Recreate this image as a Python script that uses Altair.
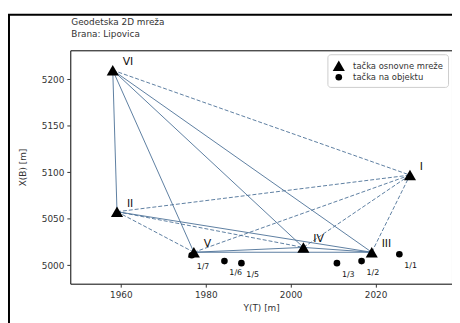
import altair as alt
import pandas as pd

# Base network points (name, Y(E), X(N))
base_names = ["I", "II", "III", "IV", "V", "VI"]
base_e = [2028.1, 1959.1, 2019.1, 2003.0, 1977.2, 1958.1]
base_n = [5096.8, 5057.4, 5013.8, 5019.0, 5013.8, 5209.6]

# Points on the object
obj_names = ["1/1", "1/2", "1/3", "1/5", "1/6", "1/7"]
obj_e = [2025.6, 2016.7, 2010.9, 1988.4, 1984.4, 1976.7]
obj_n = [5011.7, 5004.3, 5002.1, 5002.1, 5004.3, 5010.6]

# Network observations (edges)
edge_from = ["VI", "VI", "VI", "VI", "VI", "II", "II", "II", "II", "V", "V", "V", "IV", "IV", "III"]
edge_to   = ["II", "V", "IV", "III", "I", "I", "IV", "III", "V", "I", "IV", "III", "III", "I", "I"]
edge_style = ["solid", "solid", "solid", "solid", "dashed", "dashed", "dashed", "solid", "dashed",
              "dashed", "solid", "solid", "solid", "dashed", "dashed"]

x_ticks = [1960, 1980, 2000, 2020]
y_ticks = [5000, 5050, 5100, 5150, 5200]

legend_labels = ["tačka osnovne mreže", "tačka na objektu"]
title_lines = ["Geodetska 2D mreža", "Brana: Lipovica"]

pos = {n: (e, x) for n, e, x in zip(base_names, base_e, base_n)}
edges = pd.DataFrame({
    "e1": [pos[a][0] for a in edge_from],
    "n1": [pos[a][1] for a in edge_from],
    "e2": [pos[b][0] for b in edge_to],
    "n2": [pos[b][1] for b in edge_to],
    "style": edge_style,
})

pts = pd.DataFrame({
    "name": base_names + obj_names,
    "E": base_e + obj_e,
    "N": base_n + obj_n,
    "type": [legend_labels[0]] * len(base_names) + [legend_labels[1]] * len(obj_names),
})
base_df = pts[pts["type"] == legend_labels[0]]
obj_df = pts[pts["type"] == legend_labels[1]]

xs = alt.Scale(domain=[1948.1, 2038.0], nice=False, zero=False)
ys = alt.Scale(domain=[4980, 5231], nice=False, zero=False)

X = lambda f: alt.X(f, type="quantitative", scale=xs, title="Y(T) [m]",
                    axis=alt.Axis(values=x_ticks, format="d"))
Y = lambda f: alt.Y(f, type="quantitative", scale=ys, title="X(B) [m]",
                    axis=alt.Axis(values=y_ticks, format="d"))

line_color = "#4a7096"

solid = alt.Chart(edges).transform_filter(alt.datum.style == "solid").mark_rule(
    color=line_color, strokeWidth=0.9
).encode(x=X("e1"), y=Y("n1"), x2="e2", y2="n2")

dashed = alt.Chart(edges).transform_filter(alt.datum.style == "dashed").mark_rule(
    color=line_color, strokeWidth=0.9, strokeDash=[4, 2]
).encode(x=X("e1"), y=Y("n1"), x2="e2", y2="n2")

points = alt.Chart(pts).mark_point(filled=True, color="black", opacity=1).encode(
    x=X("E"), y=Y("N"),
    shape=alt.Shape("type:N", scale=alt.Scale(domain=legend_labels, range=["triangle-up", "circle"]),
                    legend=alt.Legend(title=None)),
    size=alt.Size("type:N", scale=alt.Scale(domain=legend_labels, range=[150, 45]),
                  legend=alt.Legend(title=None)),
)

base_labels = alt.Chart(base_df).mark_text(
    align="left", baseline="middle", dx=10, dy=-8, fontSize=11, color="#111", font="DejaVu Sans"
).encode(x=X("E"), y=Y("N"), text="name")

obj_labels = alt.Chart(obj_df).mark_text(
    align="left", baseline="middle", dx=5, dy=12, fontSize=8, color="#111", font="DejaVu Sans"
).encode(x=X("E"), y=Y("N"), text="name")

frame = alt.Chart(pd.DataFrame({"a": [0]})).mark_rect(
    fillOpacity=0, stroke="black", strokeWidth=2
).encode(x=alt.value(-62), x2=alt.value(420), y=alt.value(-36), y2=alt.value(300))

title_df = pd.DataFrame({"t": title_lines, "i": [0, 1]})
title1 = alt.Chart(title_df).transform_filter(alt.datum.i == 0).mark_text(
    align="left", baseline="middle", fontSize=9, color="#333", font="DejaVu Sans"
).encode(x=alt.value(1), y=alt.value(-29), text="t:N")
title2 = alt.Chart(title_df).transform_filter(alt.datum.i == 1).mark_text(
    align="left", baseline="middle", fontSize=9, color="#333", font="DejaVu Sans"
).encode(x=alt.value(1), y=alt.value(-16), text="t:N")

chart = alt.layer(frame, solid, dashed, points, base_labels, obj_labels, title1, title2).properties(
    width=386, height=236,
    autosize=alt.AutoSizeParams(type="none"),
    padding={"left": 63, "top": 41, "right": 0, "bottom": 40},
).configure_view(stroke="black", strokeWidth=1).configure_axis(
    grid=False, domain=False, labelFontSize=9, labelColor="#333", titleFontSize=9,
    titleFontWeight="normal", titleColor="#333", tickColor="#333", tickSize=3.5,
    labelFont="DejaVu Sans", titleFont="DejaVu Sans", labelPadding=3
).configure_axisY(titlePadding=14).configure_axisX(titlePadding=5).configure_legend(
    orient="top-right", offset=4, strokeColor="#ccc", fillColor="white", padding=5,
    cornerRadius=3, labelFontSize=8.5, labelColor="#333", labelFont="DejaVu Sans", rowPadding=2,
    symbolStrokeWidth=0, labelOffset=8
)

chart.save("out.html", embed_options={"renderer": "svg", "actions": False})
